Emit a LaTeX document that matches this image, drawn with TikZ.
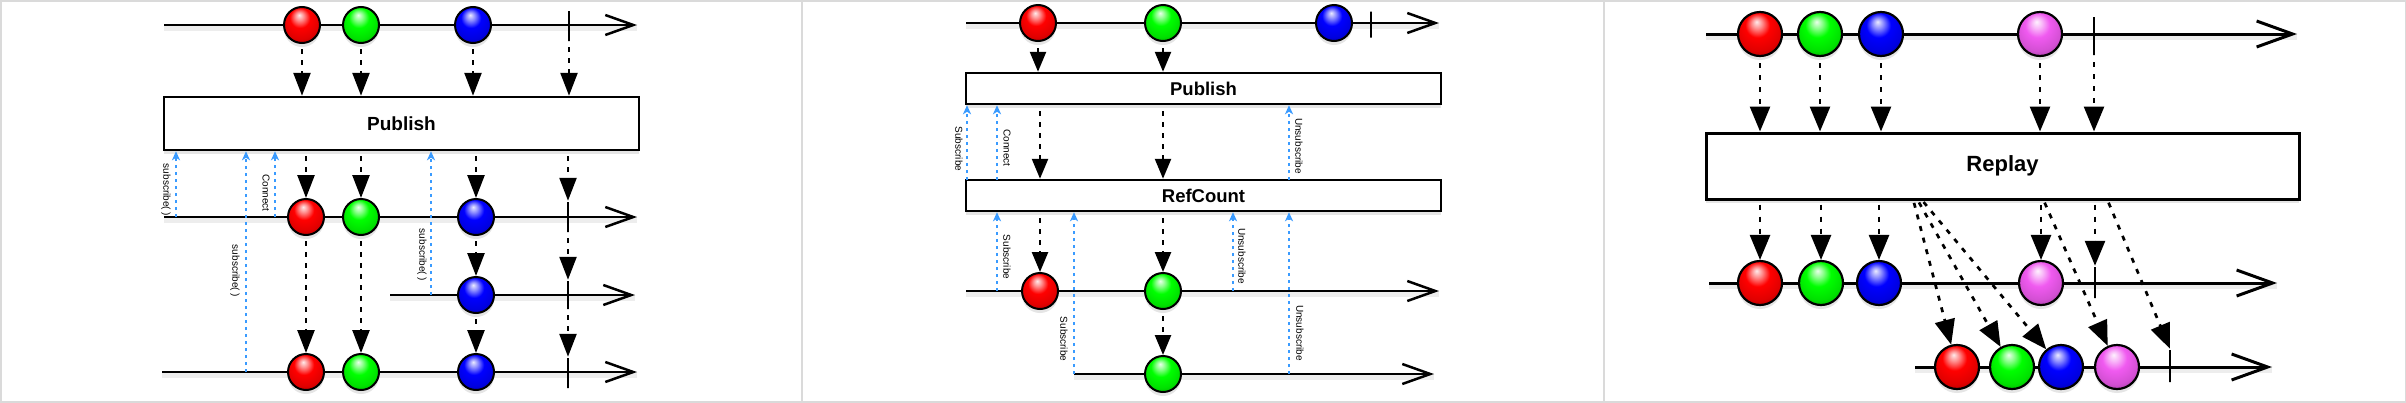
\documentclass[tikz,border=0pt]{standalone}
\usepackage{fontspec}
\setmainfont{Liberation Sans}
\usetikzlibrary{arrows.meta,shadows,calc}
\definecolor{framegray}{RGB}{218,218,218}
\definecolor{subblue}{RGB}{58,155,255}
\definecolor{mag}{RGB}{240,90,240}
\makeatletter
\pgfdeclareradialshading[tikz@ball]{shinyball}{\pgfqpoint{-4bp}{14bp}}{%
  color(0bp)=(tikz@ball!8!white); color(6bp)=(tikz@ball!45!white);
  color(14bp)=(tikz@ball); color(26bp)=(tikz@ball!88!black);
  color(36bp)=(tikz@ball!62!black); color(50bp)=(tikz@ball!30!black)}
\makeatother
\tikzset{
  shd/.style={drop shadow={shadow xshift=0pt,shadow yshift=-4pt,opacity=0.2}},
  ballA/.style={circle,draw=black,line width=2pt,minimum size=36pt,inner sep=0pt,ball color=#1,shading=shinyball,shd},
  ballB/.style={circle,draw=black,line width=2.2pt,minimum size=44pt,inner sep=0pt,ball color=#1,shading=shinyball,shd},
  lineshadow/.style={preaction={draw=black,opacity=0.07,line width=6pt,-,transform canvas={yshift=-3pt}}},
  tlA/.style={line width=2.5pt,lineshadow,-{Straight Barb[length=28pt,width=20pt]}},
  tlB/.style={line width=3pt,lineshadow,-{Straight Barb[length=36pt,width=26pt]}},
  opbox/.style={draw=black,line width=2.5pt,fill=white,inner sep=0pt,shd},
  tickmark/.style={rectangle,inner sep=0pt,minimum width=0pt,minimum height=#1,draw=black,line width=2.5pt},
  evA/.style={line width=2.5pt,dash pattern=on 5pt off 6pt,-{Triangle[length=23pt,width=17pt]}},
  evM/.style={line width=2.5pt,dash pattern=on 5pt off 6pt,-{Triangle[length=20pt,width=16pt]}},
  evB/.style={line width=2.7pt,dash pattern=on 5pt off 7pt,-{Triangle[length=25pt,width=20pt]}},
  sub/.style={subblue,line width=1.9pt,dash pattern=on 3.5pt off 3.5pt,-{Stealth[length=9pt,width=8pt,inset=2.5pt]}},
  lbl/.style={font=\fontsize{10}{12}\selectfont,rotate=-90,inner sep=0pt},
}
\begin{document}
\begin{tikzpicture}[x=1pt,y=-1pt]
\useasboundingbox (0,0) rectangle (2406,402);
\fill[white] (0,0) rectangle (2406,402);
\draw[framegray,line width=3pt] (0,0) rectangle (2406,402);
\draw[framegray,line width=2.5pt] (802,0) -- (802,402);
\draw[framegray,line width=2.5pt] (1604,0) -- (1604,402);

% ================= Panel 1 : Publish =================
\coordinate (L1as) at (164,25);  \coordinate (L1ae) at (637,25);
\coordinate (L1bs) at (164,217); \coordinate (L1be) at (637,217);
\coordinate (L1cs) at (390,295); \coordinate (L1ce) at (635,295);
\coordinate (L1ds) at (162,372); \coordinate (L1de) at (637,372);
\draw[tlA] (L1as) -- (L1ae);
\draw[tlA] (L1bs) -- (L1be);
\draw[tlA] (L1cs) -- (L1ce);
\draw[tlA] (L1ds) -- (L1de);

\node[tickmark=30pt] (a1t) at (569,26) {};
\node[tickmark=30pt] (b1t) at (568,217) {};
\node[tickmark=28pt] (c1t) at (568,295) {};
\node[tickmark=30pt] (d1t) at (568,373) {};

\node[ballA=red]   (a1r) at (302,25) {};
\node[ballA=green] (a1g) at (361,25) {};
\node[ballA=blue]  (a1b) at (473,25) {};
\node[ballA=red]   (b1r) at (306,217) {};
\node[ballA=green] (b1g) at (361,217) {};
\node[ballA=blue]  (b1b) at (476,217) {};
\node[ballA=blue]  (c1b) at (476,295) {};
\node[ballA=red]   (d1r) at (306,372) {};
\node[ballA=green] (d1g) at (361,372) {};
\node[ballA=blue]  (d1b) at (476,372) {};

\node[opbox,minimum width=475pt,minimum height=53pt,font=\bfseries\fontsize{19}{22}\selectfont] (P1) at (401.5,123.5) {Publish};

\draw[evA,shorten <=5pt] (a1r) -- (a1r |- P1.north);
\draw[evA,shorten <=5pt] (a1g) -- (a1g |- P1.north);
\draw[evA,shorten <=5pt] (a1b) -- (a1b |- P1.north);
\draw[evA,shorten <=5pt] (a1t.south) -- (a1t.south |- P1.north);
\draw[evA,shorten <=5pt] (b1r |- P1.south) -- (b1r);
\draw[evA,shorten <=5pt] (b1g |- P1.south) -- (b1g);
\draw[evA,shorten <=5pt] (b1b |- P1.south) -- (b1b);
\draw[evA,shorten <=5pt] (b1t |- P1.south) -- (b1t.north);
\draw[evA,shorten <=5pt] (b1r) -- (d1r);
\draw[evA,shorten <=5pt] (b1g) -- (d1g);
\draw[evA,shorten <=5pt] (b1b) -- (c1b);
\draw[evA,shorten <=5pt] (c1b) -- (d1b);
\draw[evA,shorten <=5pt] (b1t.south) -- (c1t.north);
\draw[evA,shorten <=5pt] (c1t.south) -- (d1t.north);

\coordinate (u11) at (176,217);
\coordinate (u12) at (246,372);
\coordinate (u13) at (275,217);
\coordinate (u14) at (431,295);
\draw[sub] (u11) -- (u11 |- P1.south);
\draw[sub] (u12) -- (u12 |- P1.south);
\draw[sub] (u13) -- (u13 |- P1.south);
\draw[sub] (u14) -- (u14 |- P1.south);
\node[lbl] (t11) at (166,190) {subscribe( )};
\node[lbl] (t12) at (235,271) {subscribe( )};
\node[lbl] (t13) at (266,193) {Connect};
\node[lbl] (t14) at (422,255) {subscribe( )};

% ================= Panel 2 : Publish + RefCount =================
\coordinate (L2as) at (966,23);   \coordinate (L2ae) at (1439,23);
\coordinate (L2bs) at (966,291);  \coordinate (L2be) at (1439,291);
\coordinate (L2cs) at (1074,374); \coordinate (L2ce) at (1434,374);
\draw[tlA] (L2as) -- (L2ae);
\draw[tlA] (L2bs) -- (L2be);
\draw[tlA] (L2cs) -- (L2ce);

\node[tickmark=26pt] (a2t) at (1371,24.5) {};
\node[ballA=red]   (a2r) at (1038,23) {};
\node[ballA=green] (a2g) at (1163,23) {};
\node[ballA=blue]  (a2b) at (1334,23) {};
\node[ballA=red]   (b2r) at (1040,291) {};
\node[ballA=green] (b2g) at (1163,291) {};
\node[ballA=green] (c2g) at (1163,374) {};

\node[opbox,minimum width=475pt,minimum height=31pt,font=\bfseries\fontsize{18.5}{22}\selectfont] (P2) at (1203.5,88.5) {Publish};
\node[opbox,minimum width=475pt,minimum height=31pt,font=\bfseries\fontsize{18.5}{22}\selectfont] (R2) at (1203.5,195.5) {RefCount};

\draw[evM,shorten <=6pt] (a2r) -- (a2r |- P2.north);
\draw[evM,shorten <=6pt] (a2g) -- (a2g |- P2.north);
\draw[evM,shorten <=6pt] (b2r |- P2.south) -- (b2r |- R2.north);
\draw[evM,shorten <=6pt] (b2g |- P2.south) -- (b2g |- R2.north);
\draw[evM,shorten <=6pt] (b2r |- R2.south) -- (b2r);
\draw[evM,shorten <=6pt] (b2g |- R2.south) -- (b2g);
\draw[evM,shorten <=6pt] (b2g) -- (c2g);

\coordinate (u21) at (967,180);
\coordinate (u22) at (997,180);
\coordinate (u23) at (1289,180);
\coordinate (u24) at (997,291);
\coordinate (u25) at (1074,374);
\coordinate (u26) at (1233,291);
\coordinate (u27) at (1289,374);
\draw[sub] (u21) -- (u21 |- P2.south);
\draw[sub] (u22) -- (u22 |- P2.south);
\draw[sub] (u23) -- (u23 |- P2.south);
\draw[sub] (u24) -- (u24 |- R2.south);
\draw[sub] (u25) -- (u25 |- R2.south);
\draw[sub] (u26) -- (u26 |- R2.south);
\draw[sub] (u27) -- (u27 |- R2.south);
\node[lbl] (t21) at (959,149) {Subscribe};
\node[lbl] (t22) at (1007,148) {Connect};
\node[lbl] (t23) at (1299,146) {Unsubscribe};
\node[lbl] (t24) at (1007,257) {Subscribe};
\node[lbl] (t25) at (1064,339) {Subscribe};
\node[lbl] (t26) at (1242,256) {Unsubscribe};
\node[lbl] (t27) at (1300,333) {Unsubscribe};

% ================= Panel 3 : Replay =================
\coordinate (L3as) at (1706,34);  \coordinate (L3ae) at (2297,34);
\coordinate (L3bs) at (1709,283); \coordinate (L3be) at (2277,283);
\coordinate (L3cs) at (1915,367); \coordinate (L3ce) at (2272,367);
\draw[tlB] (L3as) -- (L3ae);
\draw[tlB] (L3bs) -- (L3be);
\draw[tlB] (L3cs) -- (L3ce);

\node[tickmark=38pt] (a3t) at (2094,36) {};
\node[tickmark=31pt] (b3t) at (2095,282.5) {};
\node[tickmark=32pt] (c3t) at (2170,366) {};

\node[ballB=red]   (a3r) at (1760,34) {};
\node[ballB=green] (a3g) at (1820,34) {};
\node[ballB=blue]  (a3b) at (1881,34) {};
\node[ballB=mag]   (a3m) at (2040,34) {};
\node[ballB=red]   (b3r) at (1760,283) {};
\node[ballB=green] (b3g) at (1821,283) {};
\node[ballB=blue]  (b3b) at (1879,283) {};
\node[ballB=mag]   (b3m) at (2041,283) {};
\node[ballB=red]   (c3r) at (1957,367) {};
\node[ballB=green] (c3g) at (2012,367) {};
\node[ballB=blue]  (c3b) at (2061,367) {};
\node[ballB=mag]   (c3m) at (2117,367) {};

\node[opbox,line width=3pt,minimum width=593pt,minimum height=66pt,font=\bfseries\fontsize{22}{26}\selectfont] (RB) at (2002.5,166) {Replay};

\draw[evB,shorten <=6pt] (a3r) -- (a3r |- RB.north);
\draw[evB,shorten <=6pt] (a3g) -- (a3g |- RB.north);
\draw[evB,shorten <=6pt] (a3b) -- (a3b |- RB.north);
\draw[evB,shorten <=6pt] (a3m) -- (a3m |- RB.north);
\draw[evB,shorten <=6pt] (a3t.south) -- (a3t.south |- RB.north);
\draw[evB,shorten <=4pt] (b3r |- RB.south) -- (b3r);
\draw[evB,shorten <=4pt] (b3g |- RB.south) -- (b3g);
\draw[evB,shorten <=4pt] (b3b |- RB.south) -- (b3b);
\draw[evB,shorten <=4pt] (b3m |- RB.south) -- (b3m);
\draw[evB,shorten <=4pt] (b3t |- RB.south) -- (b3t.north);

\coordinate (q1) at (1913,199);
\coordinate (q2) at (1917,199);
\coordinate (q3) at (1921,199);
\coordinate (q4) at (2043,199);
\coordinate (q5) at (2107,199);
\draw[evB,shorten <=4pt] (q1) -- (c3r);
\draw[evB,shorten <=4pt] (q2) -- (c3g);
\draw[evB,shorten <=4pt] (q3) -- (c3b);
\draw[evB,shorten <=4pt] (q4) -- (c3m);
\draw[evB,shorten <=4pt] (q5) -- (c3t.north);
\end{tikzpicture}
\end{document}
